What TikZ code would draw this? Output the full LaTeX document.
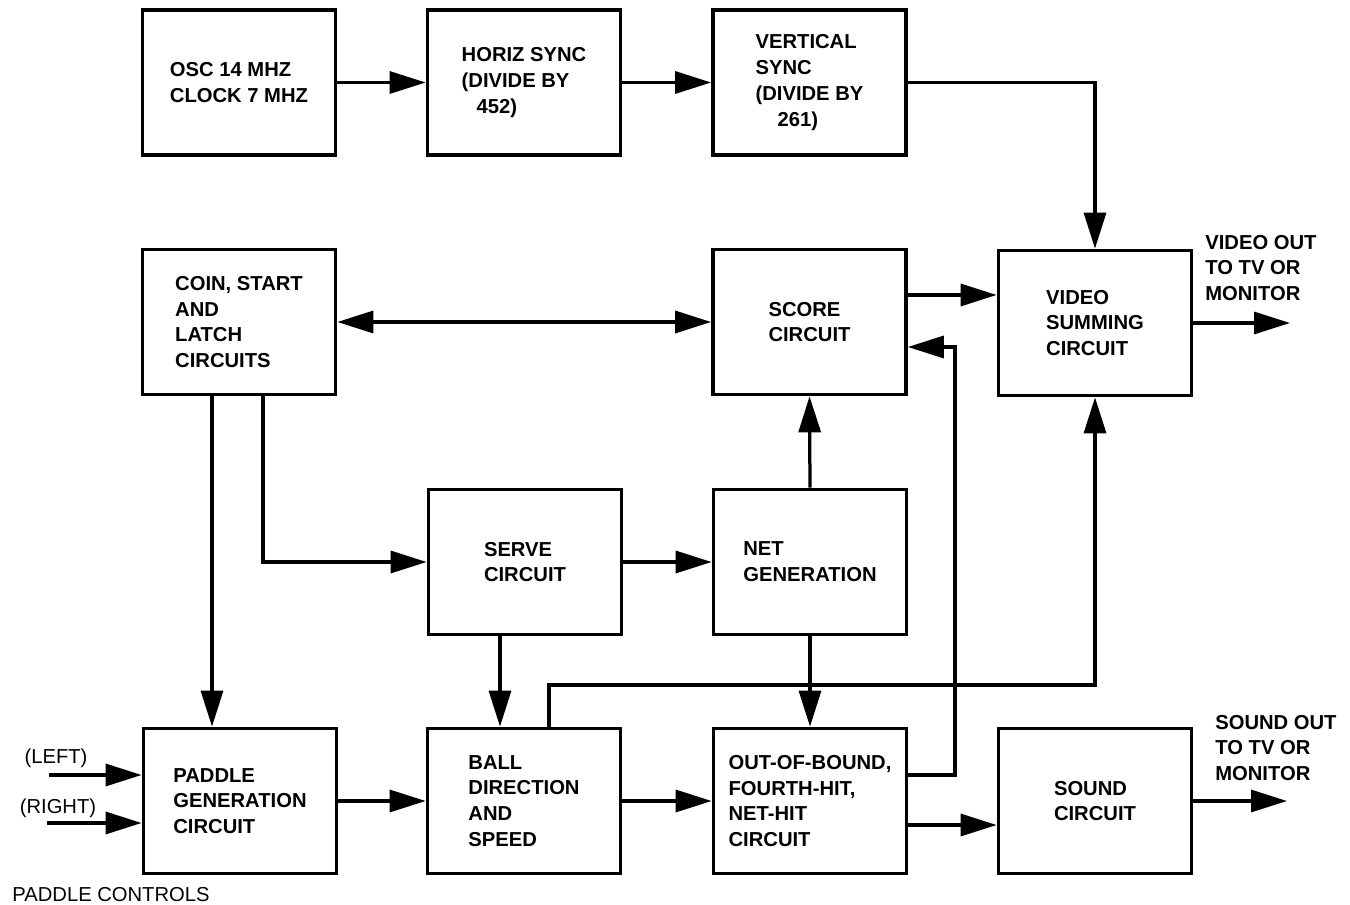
\documentclass[tikz,border=0pt]{standalone}
\usepackage{fontspec}
\setmainfont{Liberation Sans}
\usetikzlibrary{arrows.meta}
\newcommand{\bxfont}{\fontsize{11.5pt}{14.7pt}\selectfont\bfseries}
\newcommand{\smfont}{\fontsize{11.5pt}{14.7pt}\selectfont}
\begin{document}
\begin{tikzpicture}[x=0.02cm,y=-0.02cm,
  box/.style={draw,line width=0.075cm,minimum width=3.86cm,minimum height=2.9cm,inner sep=0pt,align=left,font=\bxfont},
  arr/.style={line width=0.065cm,-{Triangle[length=0.72cm,width=0.44cm]}},
  darr/.style={line width=0.065cm,{Triangle[length=0.72cm,width=0.44cm]}-{Triangle[length=0.72cm,width=0.44cm]}},
  lbl/.style={font=\bxfont,align=left,inner sep=0pt},
  slbl/.style={font=\smfont,align=left,inner sep=0pt}]
\useasboundingbox (0,0) rectangle (1350,905);

% boxes
\node[box] (osc) at (239,82.5) {OSC 14 MHZ\\CLOCK 7 MHZ};
\node[box] (horiz) at (524,82.5) {HORIZ SYNC\\(DIVIDE BY\\\hspace*{0.3cm}452)};
\node[box] (vert) at (809.5,82.5) {VERTICAL\\SYNC\\(DIVIDE BY\\\hspace*{0.44cm}261)};
\node[box] (coin) at (239,322) {COIN, START\\AND\\LATCH\\CIRCUITS};
\node[box] (score) at (809.5,322) {SCORE\\CIRCUIT};
\node[box] (video) at (1095,323) {VIDEO\\SUMMING\\CIRCUIT};
\node[box] (serve) at (525,562) {SERVE\\CIRCUIT};
\node[box] (net) at (810,562) {NET\\GENERATION};
\node[box] (paddle) at (240,801) {PADDLE\\GENERATION\\CIRCUIT};
\node[box] (ball) at (524,801) {BALL\\DIRECTION\\AND\\SPEED};
\node[box] (out) at (810,801) {OUT-OF-BOUND,\\FOURTH-HIT,\\NET-HIT\\CIRCUIT};
\node[box] (sound) at (1095,801) {SOUND\\CIRCUIT};

% free labels
\node[lbl,anchor=west] (vo) at (1205,268) {VIDEO OUT\\TO TV OR\\MONITOR};
\node[lbl,anchor=west] (so) at (1215,748) {SOUND OUT\\TO TV OR\\MONITOR};
\node[slbl] (lt) at (56,758) {(LEFT)};
\node[slbl] (rt) at (58,808) {(RIGHT)};
\node[slbl] (pc) at (111,895) {PADDLE CONTROLS};

% helper coordinates
\coordinate (cx1) at (212,0);
\coordinate (cx2) at (263,0);
\coordinate (sy) at (0,295);
\coordinate (vout) at (1290,323);
\coordinate (sout) at (1287,801);
\coordinate (bx) at (500,0);
\coordinate (hx) at (549,685);
\coordinate (fy) at (0,775);
\coordinate (fb) at (955,347);
\coordinate (sdy) at (0,825);
\coordinate (lin) at (49,775);
\coordinate (rin) at (47,823);

% connectors
\draw[arr] (osc.east) -- (horiz.west);
\draw[arr] (horiz.east) -- (vert.west);
\draw[arr] (vert.east) -| (video.north);
\draw[darr] (coin.east) -- (score.west);
\draw[arr] (score.east |- sy) -- (video.west |- sy);
\draw[arr] (video.east) -- (vout);
\draw[arr] (coin.south -| cx1) -- (paddle.north -| cx1);
\draw[arr] (coin.south -| cx2) |- (serve.west);
\draw[arr] (serve.east) -- (net.west);
\draw[arr] (net.north) -- (score.south);
\draw[arr] (net.south) -- (out.north);
\draw[arr] (serve.south -| bx) -- (ball.north -| bx);
\draw[arr] (paddle.east) -- (ball.west);
\draw[arr] (ball.east) -- (out.west);
\draw[arr] (out.east |- sdy) -- (sound.west |- sdy);
\draw[arr] (sound.east) -- (sout);
\draw[arr] (out.east |- fy) -| (fb) -- (score.east |- fb);
\draw[arr] (ball.north -| hx) -- (hx) -| (video.south);
\draw[arr] (lin) -- (paddle.west |- lin);
\draw[arr] (rin) -- (paddle.west |- rin);
\end{tikzpicture}
\end{document}
